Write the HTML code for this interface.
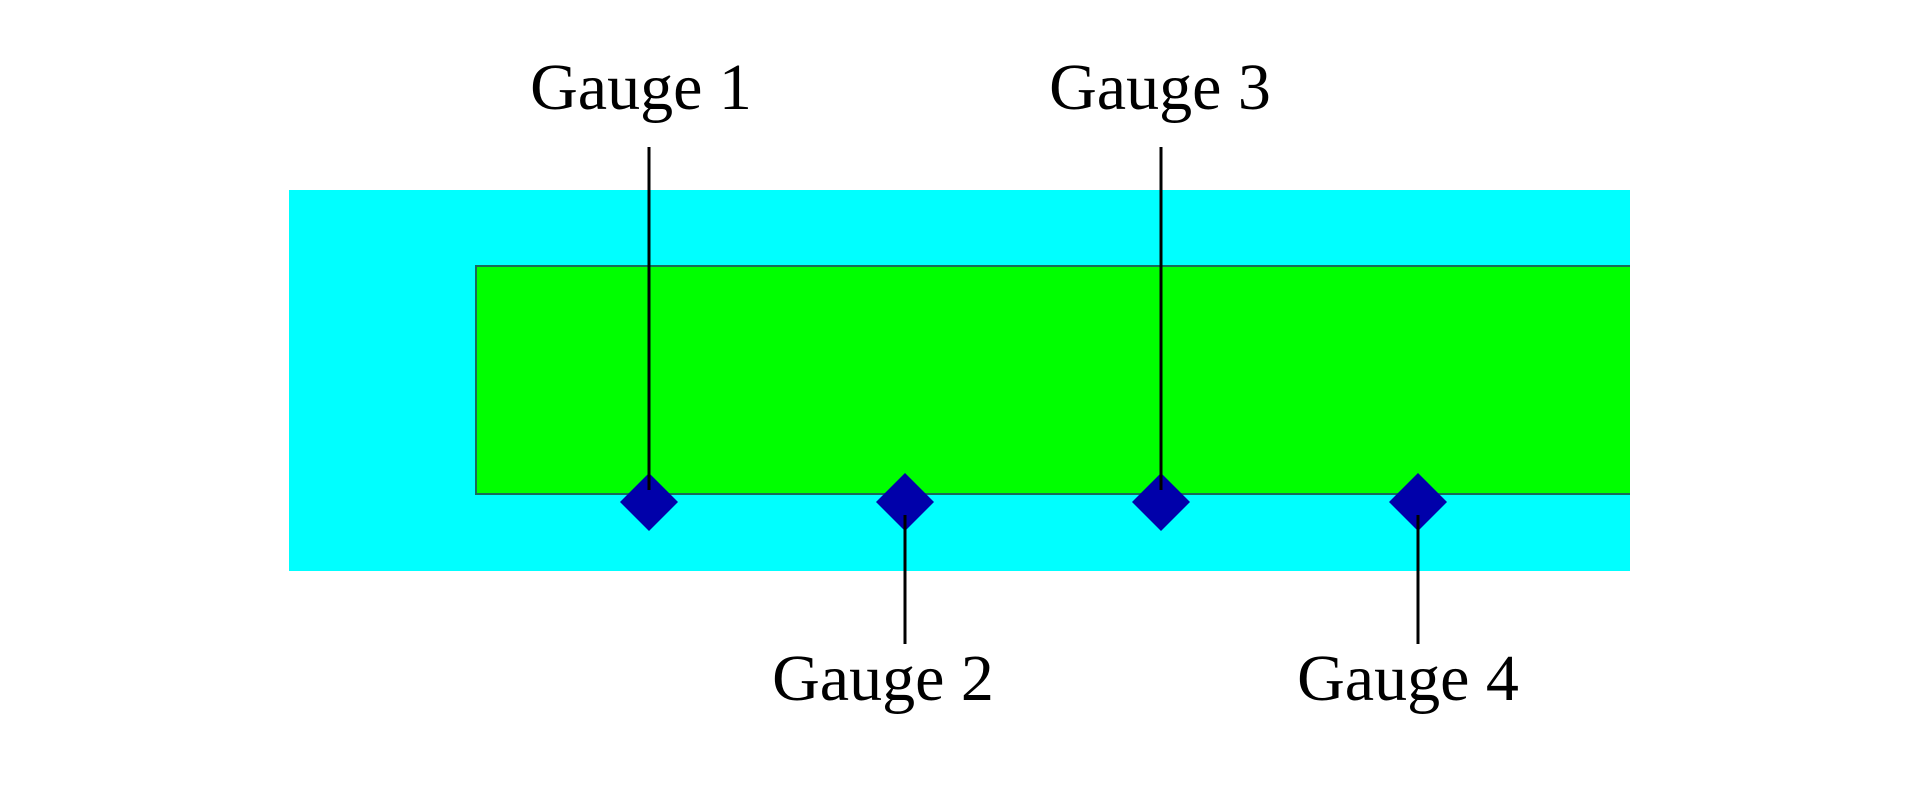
<!DOCTYPE html>
<html><head><style>
html,body{margin:0;padding:0;background:#fff;}
</style></head><body>
<svg width="1923" height="780" xmlns="http://www.w3.org/2000/svg">
<rect x="0" y="0" width="1923" height="780" fill="#fff"/>
<rect x="289" y="190" width="1341" height="381" fill="#00ffff"/>
<rect x="476" y="266" width="1154" height="228" fill="#00ff00"/>
<path d="M1630 266 H476 V494 H1630" fill="none" stroke="#1a6a5a" stroke-width="2"/>
<g stroke="#000" stroke-width="3">
<line x1="649" y1="147" x2="649" y2="500"/>
<line x1="1161" y1="147" x2="1161" y2="500"/>
<line x1="905" y1="505" x2="905" y2="644"/>
<line x1="1418" y1="505" x2="1418" y2="644"/>
</g>
<g fill="#0000aa">
<polygon points="649,473 678,502 649,531 620,502"/>
<polygon points="905,473 934,502 905,531 876,502"/>
<polygon points="1161,473 1190,502 1161,531 1132,502"/>
<polygon points="1418,473 1447,502 1418,531 1389,502"/>
</g>
<g stroke="#000" stroke-width="3">
<line x1="649" y1="470" x2="649" y2="490"/>
<line x1="1161" y1="470" x2="1161" y2="490"/>
<line x1="905" y1="515" x2="905" y2="535"/>
<line x1="1418" y1="515" x2="1418" y2="535"/>
</g>
<g font-family="Liberation Serif, serif" font-size="66" fill="#000" text-anchor="middle">
<text x="641" y="109">Gauge 1</text>
<text x="1160" y="109">Gauge 3</text>
<text x="883" y="700">Gauge 2</text>
<text x="1408" y="700">Gauge 4</text>
</g>
</svg>
</body></html>
